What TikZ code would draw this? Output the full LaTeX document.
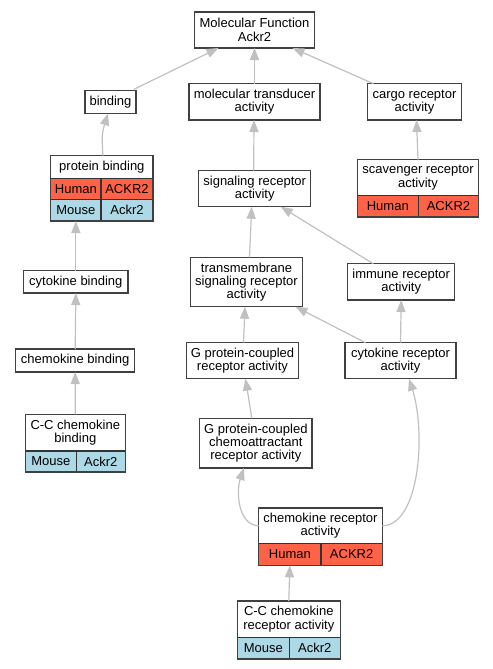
\documentclass[tikz,border=0pt]{standalone}
\usepackage{fontspec}
\setmainfont{Liberation Sans}
\usetikzlibrary{arrows.meta,calc}
\definecolor{tomato}{HTML}{FF6347}
\definecolor{lblue}{HTML}{ADD8E6}
\definecolor{edgegray}{HTML}{C0C0C0}
\definecolor{bordergray}{HTML}{404040}
\newcommand\mkbox[7][]{\node[gbox,#1,minimum width={(#5-#3)*0.75pt},minimum height={(#6-#4)*0.75pt}] (#2) at ({(#3+#5)/2},{(#4+#6)/2}) {#7};}
\begin{document}
\begin{tikzpicture}[x=0.75pt,y=-0.75pt,
  gbox/.style={draw=bordergray,line width=1pt,fill=white,inner sep=0pt,outer sep=0pt,align=center,font=\fontsize{9.75}{10}\selectfont},
  human/.style={fill=tomato,draw=black!80,line width=0.8pt},
  mouse/.style={fill=lblue,draw=black!80,line width=0.8pt},
  edge/.style={draw=edgegray,line width=0.9pt,-{Triangle[length=9pt,width=6.8pt]}}]
\useasboundingbox (0,0) rectangle (493,669);
% plain boxes
\mkbox{mf}{194.3}{12}{314.7}{48}{Molecular Function\\Ackr2}
\mkbox{bind}{85}{90.3}{136}{113.3}{binding}
\mkbox{mt}{189}{83.7}{320}{120}{molecular transducer\\activity}
\mkbox{cargo}{367.7}{83.7}{461.3}{120}{cargo receptor\\activity}
\mkbox{sig}{198.7}{170.7}{310.7}{206.7}{signaling receptor\\activity}
\mkbox{cytb}{23.7}{270.7}{128}{293}{cytokine binding}
\mkbox{tm}{190.3}{257.3}{302.7}{306.7}{transmembrane\\signaling receptor\\activity}
\mkbox{imm}{347.7}{263.7}{454.7}{300}{immune receptor\\activity}
\mkbox{chb}{15.7}{349}{134.7}{372}{chemokine binding}
\mkbox{gpcr}{186.3}{342.7}{298.7}{378.7}{G protein-coupled\\receptor activity}
\mkbox{cytr}{345}{342.7}{456}{378.7}{cytokine receptor\\activity}
\mkbox{gca}{199.7}{418.3}{312}{468}{G protein-coupled\\chemoattractant\\receptor activity}
% protein binding table
\mkbox{pb}{50.7}{155.7}{153}{178.3}{protein binding}
\mkbox[human]{pbh1}{50.7}{178.3}{101}{199.3}{Human}
\mkbox[human]{pbh2}{101}{178.3}{153}{199.3}{ACKR2}
\mkbox[mouse]{pbm1}{50.7}{199.3}{101}{221}{Mouse}
\mkbox[mouse]{pbm2}{101}{199.3}{153}{221}{Ackr2}
\draw[bordergray,line width=1pt] (pb.north west) rectangle (pbm2.south east);
% scavenger table
\mkbox{scav}{357.3}{159.7}{478.7}{195.7}{scavenger receptor\\activity}
\mkbox[human]{scavh1}{357.3}{195.7}{418.3}{217}{Human}
\mkbox[human]{scavh2}{418.3}{195.7}{478.7}{217}{ACKR2}
\draw[bordergray,line width=1pt] (scav.north west) rectangle (scavh2.south east);
% C-C chemokine binding table
\mkbox{ccb}{25.3}{414.3}{125.3}{451}{C-C chemokine\\binding}
\mkbox[mouse]{ccbm1}{25.3}{451}{76.3}{472}{Mouse}
\mkbox[mouse]{ccbm2}{76.3}{451}{125.3}{472}{Ackr2}
\draw[bordergray,line width=1pt] (ccb.north west) rectangle (ccbm2.south east);
% chemokine receptor activity table
\mkbox{cr}{258.7}{508}{382.3}{543.7}{chemokine receptor\\activity}
\mkbox[human]{crh1}{258.7}{543.7}{321}{565.3}{Human}
\mkbox[human]{crh2}{321}{543.7}{382.3}{565.3}{ACKR2}
\draw[bordergray,line width=1pt] (cr.north west) rectangle (crh2.south east);
% C-C chemokine receptor activity table
\mkbox{ccr}{237.3}{601}{340.3}{637.3}{C-C chemokine\\receptor activity}
\mkbox[mouse]{ccrm1}{237.3}{637.3}{289.3}{659}{Mouse}
\mkbox[mouse]{ccrm2}{289.3}{637.3}{340.3}{659}{Ackr2}
\draw[bordergray,line width=1pt] (ccr.north west) rectangle (ccrm2.south east);
% edges
\draw[edge] ($(bind.north east)+(-2,-1)$) -- ($(mf.south)+(-36,0)$);
\draw[edge] (mt.north) -- (mf.south);
\draw[edge] ($(cargo.north)+(-41,0)$) -- ($(mf.south)+(38,0)$);
\draw[edge] ($(pb.north)+(1,0)$) .. controls ($(pb.north)+(0,-22)$) .. ($(bind.south)+(-2.5,0)$);
\draw[edge] ($(sig.north)+(-1,0)$) -- ($(mt.south)+(-0.5,0)$);
\draw[edge] (scav.north) -- ($(cargo.south)+(2,0)$);
\draw[edge] (cytb.north) -- (pbm1.south);
\draw[edge] (chb.north) -- (cytb.south);
\draw[edge] (ccb.north) -- (chb.south);
\draw[edge] ($(tm.north)+(3,0)$) -- ($(sig.south)+(-3,0)$);
\draw[edge] ($(imm.north)+(-28,0)$) -- ($(sig.south)+(26,0)$);
\draw[edge] ($(gpcr.north)+(1,0)$) -- ($(tm.south)+(-1.5,0)$);
\draw[edge] ($(cytr.north)+(-35,0)$) -- ($(tm.south)+(49,0)$);
\draw[edge] (cytr.north) -- (imm.south);
\draw[edge] ($(gca.north)+(-4,0)$) -- ($(gpcr.south)+(3,0)$);
\draw[edge] (cr.west) .. controls (238,525) and (236,492) .. ($(gca.south)+(-12,0)$);
\draw[edge] (cr.east) .. controls (420,525) and (426,432) .. ($(cytr.south)+(8.5,0)$);
\draw[edge] (ccr.north) -- (crh1.south);
\end{tikzpicture}
\end{document}
